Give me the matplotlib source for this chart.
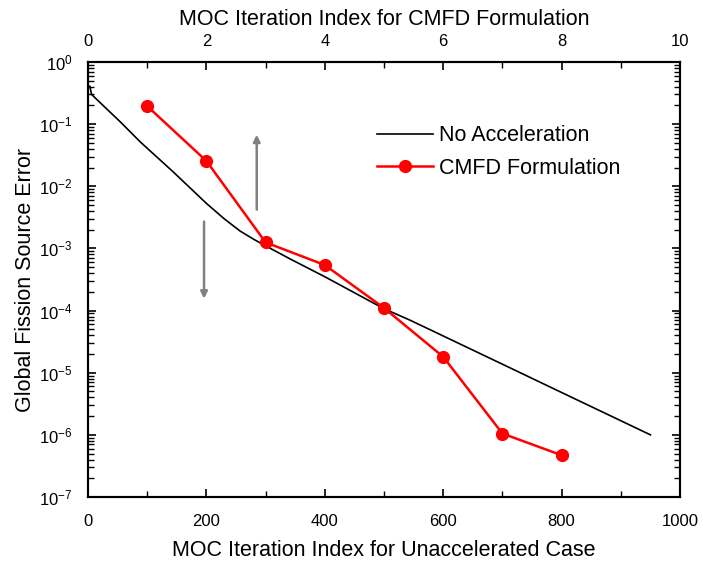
import matplotlib
matplotlib.use('Agg')
import matplotlib.pyplot as plt
from matplotlib.ticker import MultipleLocator, LogLocator, NullFormatter

plt.rcParams['font.family'] = ['Liberation Sans', 'DejaVu Sans']
plt.rcParams['mathtext.default'] = 'regular'

# unaccelerated case (bottom axis)
noacc_iter = [0, 3, 6, 54, 88, 144, 172, 200, 230, 257, 280, 300, 341, 400, 500, 544,
              600, 700, 800, 950]
noacc_err = [0.4, 0.41, 0.3, 0.11, 0.052, 0.017, 0.0095, 0.0053, 0.003, 0.0019,
             0.0014, 0.0011, 0.00068, 0.00035, 0.000107, 7e-5, 3.9e-5, 1.37e-5,
             4.8e-6, 1.0e-6]

# CMFD (top axis)
cmfd_iter = [1, 2, 3, 4, 5, 6, 7, 8]
cmfd_err = [0.195, 0.0255, 0.00125, 0.00054, 0.00011, 1.8e-5, 1.05e-6, 4.7e-7]

fig = plt.figure(figsize=(7.03, 5.62), dpi=100)
ax = fig.add_axes([0.1252, 0.1157, 0.8421, 0.774])
ax2 = ax.twiny()

l1, = ax.plot(noacc_iter, noacc_err, color='black', lw=1.2, label='No Acceleration')
l2, = ax2.plot(cmfd_iter, cmfd_err, color='red', lw=1.8, marker='o', ms=8.5,
               label='CMFD Formulation')

ax.set_yscale('log')
ax.set_ylim(1e-7, 1)
ax.set_xlim(0, 1000)
ax2.set_xlim(0, 10)

ax.xaxis.set_major_locator(MultipleLocator(200))
ax.xaxis.set_minor_locator(MultipleLocator(100))
ax2.xaxis.set_major_locator(MultipleLocator(2))
ax2.xaxis.set_minor_locator(MultipleLocator(1))
ax.yaxis.set_major_locator(LogLocator(base=10, numticks=10))
ax.yaxis.set_minor_locator(LogLocator(base=10, subs=range(2, 10), numticks=10))
ax.yaxis.set_minor_formatter(NullFormatter())

for a in (ax, ax2):
    a.tick_params(which='major', direction='in', length=6, width=1.2, labelsize=12)
    a.tick_params(which='minor', direction='in', length=4, width=1.0)
    for s in a.spines.values():
        s.set_linewidth(1.5)
ax.tick_params(axis='y', which='both', right=True)
ax.tick_params(axis='x', which='major', pad=12.5)
ax.tick_params(axis='y', which='major', pad=11)
ax2.tick_params(axis='x', which='major', pad=9.5)

ax.set_xlabel('MOC Iteration Index for Unaccelerated Case', fontsize=15.5, labelpad=8)
ax2.set_xlabel('MOC Iteration Index for CMFD Formulation', fontsize=15.5, labelpad=6)
ax.set_ylabel('Global Fission Source Error', fontsize=15.5, labelpad=2)

# arrows pointing to which axis each curve belongs to
ax.annotate('', xy=(285, 0.075), xytext=(285, 0.0038),
            arrowprops=dict(arrowstyle='-|>', color='gray', lw=1.8, mutation_scale=10))
ax.annotate('', xy=(196, 1.4e-4), xytext=(196, 0.003),
            arrowprops=dict(arrowstyle='-|>', color='gray', lw=1.8, mutation_scale=10))

ax.legend([l1, l2], ['No Acceleration', 'CMFD Formulation'], loc='upper left',
          bbox_to_anchor=(0.488, 0.855), frameon=False, fontsize=15.5,
          borderaxespad=0, borderpad=0,
          handlelength=2.6, handletextpad=0.3, labelspacing=0.55)

fig.savefig('out.png', dpi=100)
